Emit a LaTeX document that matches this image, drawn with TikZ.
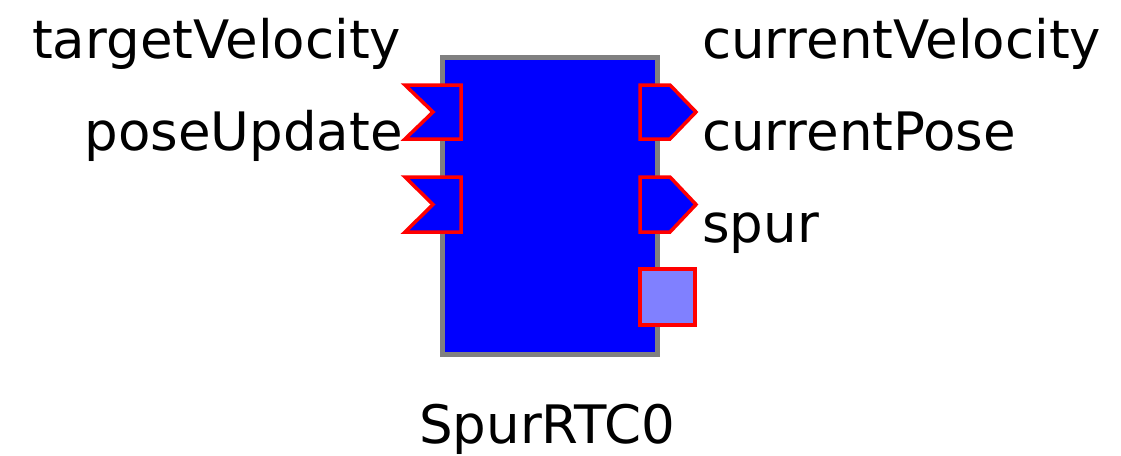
\documentclass[tikz,border=0pt]{standalone}
\usepackage{fontspec}
\setmainfont{DejaVu Sans}
\usetikzlibrary{positioning}
\definecolor{rtcblue}{HTML}{0000FF}
\definecolor{rtcred}{HTML}{FF0000}
\definecolor{rtcgray}{HTML}{808080}
\definecolor{svcblue}{HTML}{8080FF}

\begin{document}
\begin{tikzpicture}[x=1pt, y=-1pt,
    font=\fontsize{53}{62}\selectfont,
    composant/.style={rectangle, draw=rtcgray, line width=5pt, fill=rtcblue,
      minimum width=215pt, minimum height=297pt, inner sep=0pt},
    port/.style={draw=rtcred, line width=3.5pt, fill=rtcblue, line join=miter},
    service/.style={rectangle, draw=rtcred, line width=3.5pt, fill=svcblue,
      minimum width=55pt, minimum height=56pt, inner sep=0pt},
    etiquette/.style={inner sep=0pt, text=black}
  ]
    \useasboundingbox (0,0) rectangle (1121,455);
    \node[composant] (rtc) at (550,206) {};
    % ports d'entree
    \draw[port] (405,85) -- (461,85) -- (461,139) -- (405,139) -- (433,112) -- cycle;
    \draw[port] (405,177) -- (461,177) -- (461,232) -- (405,232) -- (433,204.5) -- cycle;
    \coordinate (in1) at (405,112);
    \coordinate (in2) at (405,204.5);
    % ports de sortie
    \draw[port] (640,85) -- (670,85) -- (696,112) -- (670,139) -- (640,139) -- cycle;
    \draw[port] (640,177) -- (670,177) -- (696,204.5) -- (670,232) -- (640,232) -- cycle;
    \coordinate (out1) at (696,112);
    \coordinate (out2) at (696,204.5);
    \node[service] (svc) at (667.5,297) {};
    % noms
    \node[etiquette, anchor=base west] (tv) at (32,58) {targetVelocity};
    \node[etiquette, anchor=base east] (pu) at (403,150) {poseUpdate};
    \node[etiquette, anchor=base west] (cv) at (702,58) {currentVelocity};
    \node[etiquette, anchor=base west] (cp) at (702,150) {currentPose};
    \node[etiquette, anchor=base west] (sp) at (702,242) {spur};
    \node[etiquette, anchor=base] (nom) at (547,443) {SpurRTC0};
  \end{tikzpicture}
\end{document}
